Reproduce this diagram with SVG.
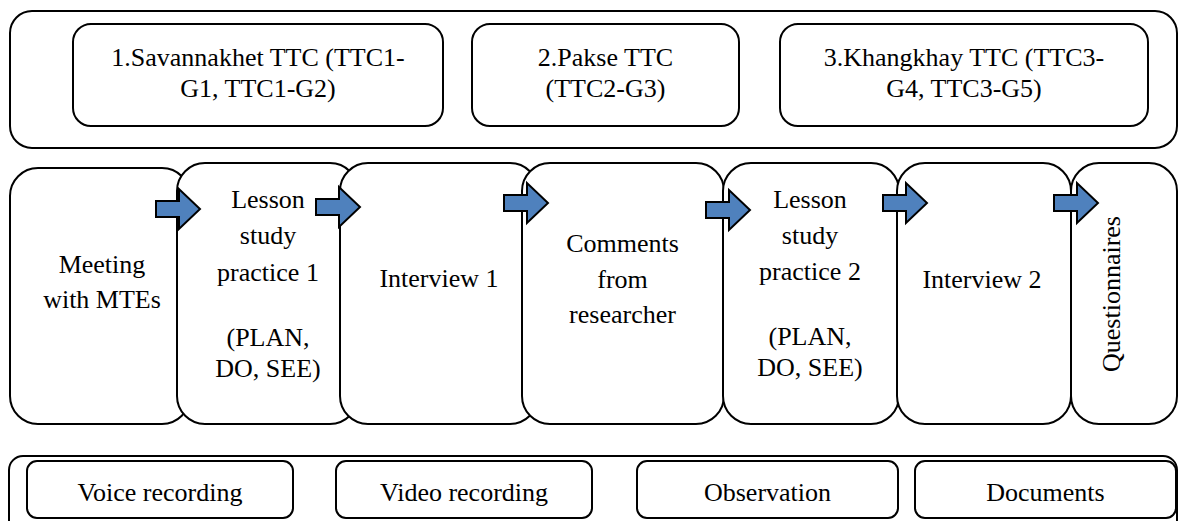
<svg xmlns="http://www.w3.org/2000/svg" xmlns:xlink="http://www.w3.org/1999/xlink" width="1178" height="521" viewBox="0 0 1178 521">
  <style>
    .box { fill: #ffffff; stroke: #000000; stroke-width: 2; }
    .txt { font-family: 'Liberation Serif', 'DejaVu Serif', 'Times New Roman', Times, serif; font-size: 26px; text-anchor: middle; fill: #000000; }
    .arrow { fill: #4F81BD; stroke: #000000; stroke-width: 2; stroke-linejoin: miter; }
  </style>
  <defs>
    <!-- block arrow, tip at the origin -->
    <path id="blockArrow" class="arrow" d="M -44,-8 H -21 V -20 L 0,0 L -21,20 V 8 H -44 Z"/>
  </defs>

  <rect width="1178" height="521" fill="#ffffff"/>

  <!-- teacher training colleges -->
  <g id="sites">
    <rect class="box" x="10" y="11" width="1167" height="137" rx="22" ry="22"/>
  </g>
  <g id="site-savannakhet" font-family="Liberation Serif, serif">
    <rect class="box" x="73" y="24" width="370" height="102" rx="18" ry="18"/>
    <text class="txt" x="258" y="66">1.Savannakhet TTC (TTC1-</text>
    <text class="txt" x="258" y="97">G1, TTC1-G2)</text>
  </g>
  <g id="site-pakse">
    <rect class="box" x="472" y="24" width="267" height="102" rx="18" ry="18"/>
    <text class="txt" x="605.5" y="66">2.Pakse TTC</text>
    <text class="txt" x="605.5" y="97">(TTC2-G3)</text>
  </g>
  <g id="site-khangkhay">
    <rect class="box" x="780" y="24" width="368" height="102" rx="18" ry="18"/>
    <text class="txt" x="964" y="66">3.Khangkhay TTC (TTC3-</text>
    <text class="txt" x="964" y="97">G4, TTC3-G5)</text>
  </g>

  <!-- process steps -->
  <g id="step-meeting">
    <rect class="box" x="10" y="168" width="180" height="256" rx="28" ry="28"/>
    <text class="txt" x="102" y="273">Meeting</text>
    <text class="txt" x="102" y="308">with MTEs</text>
  </g>
  <g id="step-lesson1">
    <rect class="box" x="177" y="163" width="181" height="261" rx="28" ry="28"/>
    <text class="txt" x="268" y="208">Lesson</text>
    <text class="txt" x="268" y="244">study</text>
    <text class="txt" x="268" y="281">practice 1</text>
    <text class="txt" x="268" y="346">(PLAN,</text>
    <text class="txt" x="268" y="377">DO, SEE)</text>
  </g>
  <g id="step-interview1">
    <rect class="box" x="340" y="163" width="198" height="261" rx="28" ry="28"/>
    <text class="txt" x="439" y="287">Interview 1</text>
  </g>
  <g id="step-comments">
    <rect class="box" x="522" y="163" width="202" height="261" rx="28" ry="28"/>
    <text class="txt" x="622.5" y="252">Comments</text>
    <text class="txt" x="622.5" y="288">from</text>
    <text class="txt" x="622.5" y="323">researcher</text>
  </g>
  <g id="step-lesson2">
    <rect class="box" x="723" y="163" width="176" height="261" rx="28" ry="28"/>
    <text class="txt" x="810" y="208">Lesson</text>
    <text class="txt" x="810" y="244">study</text>
    <text class="txt" x="810" y="280">practice 2</text>
    <text class="txt" x="810" y="345">(PLAN,</text>
    <text class="txt" x="810" y="376">DO, SEE)</text>
  </g>
  <g id="step-interview2">
    <rect class="box" x="897" y="163" width="174" height="261" rx="28" ry="28"/>
    <text class="txt" x="982" y="288">Interview 2</text>
  </g>
  <g id="step-questionnaires">
    <rect class="box" x="1071" y="163" width="106" height="261" rx="28" ry="28"/>
    <text class="txt" transform="translate(1120 294) rotate(-90)" x="0" y="0">Questionnaires</text>
  </g>

  <!-- connectors between steps -->
  <g id="connectors">
    <use xlink:href="#blockArrow" href="#blockArrow" transform="translate(200 209)"/>
    <use xlink:href="#blockArrow" href="#blockArrow" transform="translate(360 207)"/>
    <use xlink:href="#blockArrow" href="#blockArrow" transform="translate(548 203)"/>
    <use xlink:href="#blockArrow" href="#blockArrow" transform="translate(750 210)"/>
    <use xlink:href="#blockArrow" href="#blockArrow" transform="translate(927 203)"/>
    <use xlink:href="#blockArrow" href="#blockArrow" transform="translate(1098 203)"/>
  </g>

  <!-- data collection methods -->
  <g id="methods">
    <rect class="box" x="9" y="456" width="1168" height="90" rx="14" ry="14"/>
  </g>
  <g id="method-voice">
    <rect class="box" x="27" y="461" width="266" height="57" rx="10" ry="10"/>
    <text class="txt" x="160" y="501">Voice recording</text>
  </g>
  <g id="method-video">
    <rect class="box" x="336" y="461" width="256" height="57" rx="10" ry="10"/>
    <text class="txt" x="464" y="501">Video recording</text>
  </g>
  <g id="method-observation">
    <rect class="box" x="637" y="461" width="261" height="57" rx="10" ry="10"/>
    <text class="txt" x="767.5" y="501">Observation</text>
  </g>
  <g id="method-documents">
    <rect class="box" x="915" y="461" width="261" height="57" rx="10" ry="10"/>
    <text class="txt" x="1045.5" y="501">Documents</text>
  </g>
</svg>
